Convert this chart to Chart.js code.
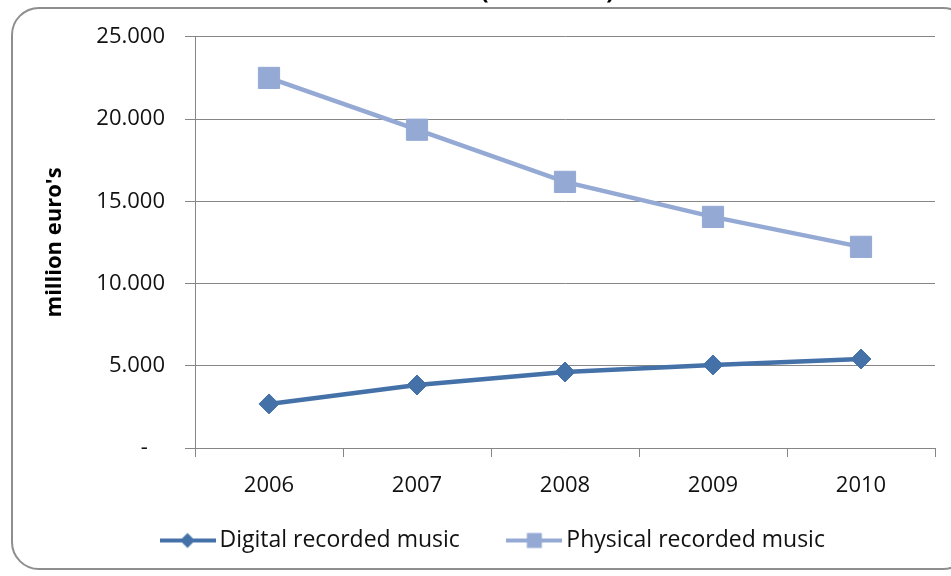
<!DOCTYPE html>
<html>
<head>
<meta charset="utf-8">
<script src="https://cdn.jsdelivr.net/npm/chart.js@4.4.0/dist/chart.umd.min.js"></script>
<style>
  html, body { margin: 0; padding: 0; background: #fff; }
  #wrap { position: relative; width: 951px; height: 576px; overflow: hidden; }
  #frame {
    position: absolute; left: 11px; top: 7px; width: 960px; height: 563px;
    border: 2px solid #8e8e8e; border-radius: 28px; box-sizing: border-box;
  }
  #box { position: absolute; left: 0; top: -30px; width: 951px; height: 606px; }
</style>
</head>
<body>
<div id="wrap">
  <div id="frame"></div>
  <div id="box"><canvas id="chart"></canvas></div>
</div>
<script>
// dati
const years = ['2006', '2007', '2008', '2009', '2010'];
const digital = [2680, 3830, 4620, 5050, 5410];
const physical = [22500, 19350, 16180, 14050, 12230];
const yTicks = [0, 5000, 10000, 15000, 20000, 25000];
const seriesNames = ['Digital recorded music', 'Physical recorded music'];
const titleText = '(2006-2010)';

const colDigital = '#4471a8';
const colPhysical = '#94a9d4';
const fontName = '"Open Sans", Lato, sans-serif';

// formato numeri tipo "25.000", lo zero come trattino
function formatTick(v) {
    if (v === 0) return '-   ';
    return String(v).replace(/\B(?=(\d{3})+(?!\d))/g, '.');
}

// simbolo legenda: linea con marcatore al centro
function legendIcon(color, shape) {
    const c = document.createElement('canvas');
    c.width = 56; c.height = 22;
    const g = c.getContext('2d');
    g.strokeStyle = color;
    g.lineWidth = 4;
    g.beginPath(); g.moveTo(0, 11); g.lineTo(56, 11); g.stroke();
    g.fillStyle = color;
    g.beginPath();
    if (shape === 'diamond') {
        g.moveTo(28, 3.5); g.lineTo(35.5, 11); g.lineTo(28, 18.5); g.lineTo(20.5, 11);
    } else {
        g.rect(20.5, 3.5, 15, 15);
    }
    g.closePath(); g.fill();
    return c;
}
const icons = [legendIcon(colDigital, 'diamond'), legendIcon(colPhysical, 'square')];

// riposiziona legenda e titolo dopo il layout
const posPlugin = {
    id: 'posPlugin',
    beforeInit(chart) {
        const fit = chart.legend.fit;
        chart.legend.fit = function () { fit.call(this); this.height = 76; };
    },
    afterLayout(chart) {
        chart.legend.left = 113;
        chart.legend.top = 505;
        chart.titleBlock.left = 160;
        chart.titleBlock.right = 935;
    }
};

new Chart(document.getElementById('chart'), {
    type: 'line',
    data: {
        labels: years,
        datasets: [{
            label: seriesNames[0],
            data: digital,
            borderColor: colDigital,
            backgroundColor: colDigital,
            borderWidth: 4.5,
            pointStyle: 'rectRot',
            pointRadius: 10,
            pointBorderWidth: 1,
            tension: 0
        }, {
            label: seriesNames[1],
            data: physical,
            borderColor: colPhysical,
            backgroundColor: colPhysical,
            borderWidth: 4.5,
            pointStyle: 'rect',
            pointRadius: 15,
            pointBorderWidth: 1,
            tension: 0
        }]
    },
    options: {
        responsive: true,
        maintainAspectRatio: false,
        animation: false,
        layout: { padding: { left: 0, right: 16, top: 0, bottom: 0 } },
        plugins: {
            title: {
                display: true,
                text: titleText,
                color: '#000',
                font: { family: fontName, size: 24, weight: 'bold' },
                padding: { top: 8, bottom: 30 }
            },
            legend: {
                position: 'bottom',
                align: 'start',
                labels: {
                    usePointStyle: true,
                    pointStyleWidth: 41,
                    padding: 54,
                    color: '#111',
                    font: { family: fontName, size: 23 },
                    generateLabels(chart) {
                        const items = Chart.defaults.plugins.legend.labels.generateLabels(chart);
                        items.forEach((it, i) => { it.pointStyle = icons[i]; });
                        return items;
                    }
                }
            },
            tooltip: { enabled: false }
        },
        scales: {
            x: {
                offset: true,
                afterFit(scale) { scale.height = 52; },
                grid: { offset: true, drawOnChartArea: false, drawTicks: true, tickLength: 9, color: '#868686' },
                border: { color: '#868686', width: 1 },
                ticks: { color: '#111', padding: 16, font: { family: fontName, size: 22 } }
            },
            y: {
                min: 0,
                max: 25000,
                afterFit(scale) { scale.width = 195; },
                afterBuildTicks(scale) { scale.ticks = yTicks.map(v => ({ value: v })); },
                grid: { color: '#868686', lineWidth: 1, tickLength: 10 },
                border: { color: '#868686', width: 1 },
                ticks: { color: '#111', padding: 20, font: { family: fontName, size: 22 }, callback: formatTick },
                title: {
                    display: true,
                    text: "million euro's",
                    color: '#000',
                    font: { family: fontName, size: 22, weight: 'bold' },
                    padding: { top: 42, bottom: 0 }
                }
            }
        }
    },
    plugins: [posPlugin]
});
</script>
</body>
</html>
